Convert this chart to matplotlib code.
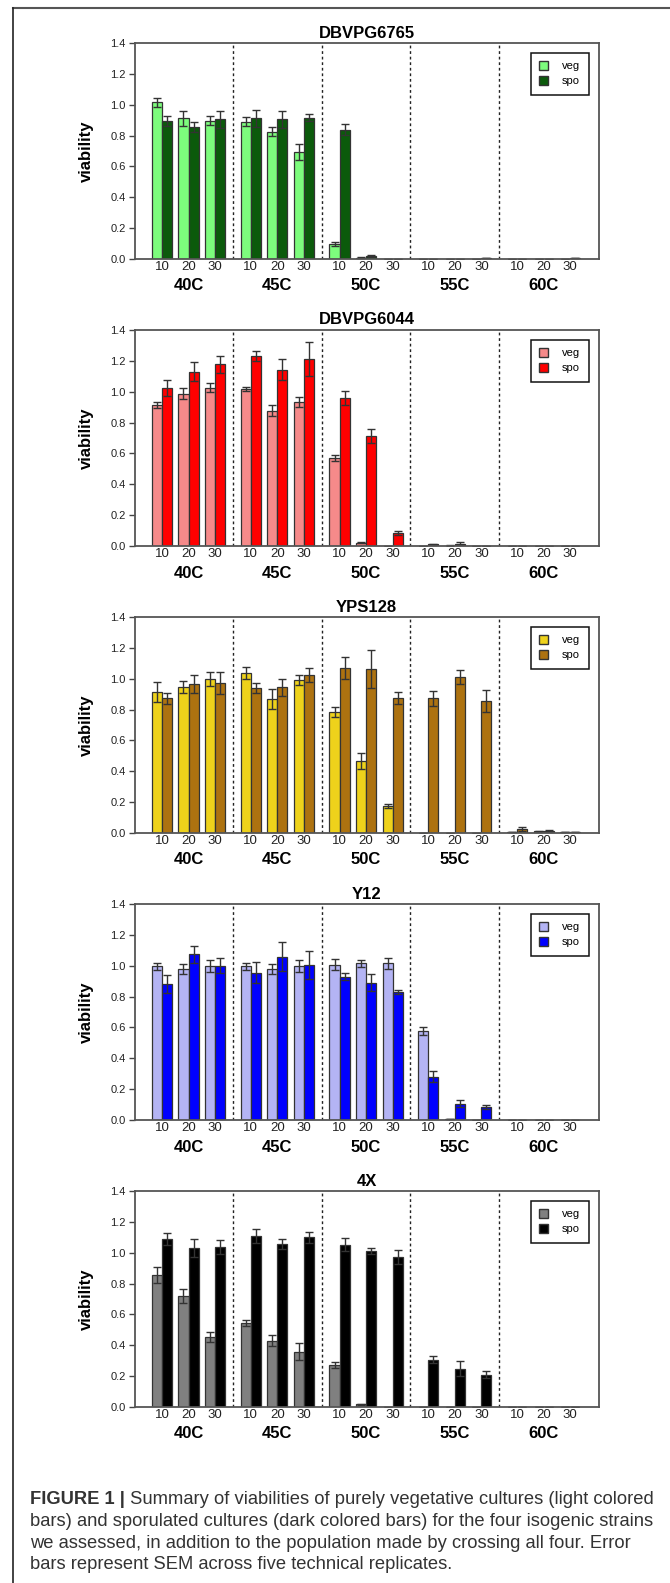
import matplotlib
matplotlib.use('Agg')
import matplotlib.pyplot as plt
from matplotlib.patches import Patch
from matplotlib.lines import Line2D
import numpy as np

plt.rcParams['font.family'] = ['Liberation Sans', 'DejaVu Sans']

temps = ['40C', '45C', '50C', '55C', '60C']
times = ['10', '20', '30']
strains = ['DBVPG6765', 'DBVPG6044', 'YPS128', 'Y12', '4X']

# values ordered 40C(10,20,30), 45C(10,20,30), ... 60C(10,20,30)
veg_6765 = [1.015, 0.912, 0.897, 0.89, 0.825, 0.693, 0.099, 0.008, 0.003, 0.0, 0.0, 0.0, 0.002, 0.001, 0.001]
veg_6765_err = [0.03, 0.048, 0.028, 0.03, 0.03, 0.05, 0.012, 0.003, 0.0, 0.0, 0.0, 0.0, 0.0, 0.0, 0.0]
spo_6765 = [0.894, 0.858, 0.905, 0.912, 0.905, 0.916, 0.838, 0.02, 0.002, 0.002, 0.002, 0.005, 0.003, 0.002, 0.005]
spo_6765_err = [0.035, 0.032, 0.054, 0.056, 0.054, 0.024, 0.037, 0.005, 0.0, 0.0, 0.0, 0.0, 0.0, 0.0, 0.0]

veg_6044 = [0.914, 0.987, 1.026, 1.02, 0.877, 0.933, 0.57, 0.022, 0.0, 0.001, 0.003, 0.0, 0.001, 0.001, 0.001]
veg_6044_err = [0.02, 0.037, 0.03, 0.013, 0.035, 0.032, 0.018, 0.005, 0.0, 0.0, 0.003, 0.0, 0.0, 0.0, 0.0]
spo_6044 = [1.024, 1.13, 1.177, 1.229, 1.143, 1.212, 0.957, 0.713, 0.086, 0.012, 0.015, 0.0, 0.001, 0.001, 0.001]
spo_6044_err = [0.052, 0.063, 0.054, 0.032, 0.067, 0.11, 0.045, 0.043, 0.013, 0.003, 0.008, 0.0, 0.0, 0.0, 0.0]

veg_yps = [0.914, 0.944, 0.998, 1.037, 0.868, 0.992, 0.784, 0.469, 0.175, 0.002, 0.002, 0.002, 0.007, 0.01, 0.004]
veg_yps_err = [0.062, 0.039, 0.048, 0.039, 0.065, 0.032, 0.035, 0.052, 0.015, 0.0, 0.0, 0.0, 0.0, 0.002, 0.0]
spo_yps = [0.873, 0.966, 0.97, 0.94, 0.944, 1.024, 1.067, 1.063, 0.875, 0.873, 1.009, 0.855, 0.024, 0.012, 0.005]
spo_yps_err = [0.035, 0.058, 0.071, 0.032, 0.054, 0.043, 0.071, 0.123, 0.037, 0.047, 0.045, 0.07, 0.013, 0.008, 0.0]

veg_y12 = [0.996, 0.981, 1.0, 0.996, 0.981, 1.0, 1.007, 1.015, 1.015, 0.577, 0.005, 0.0, 0.001, 0.001, 0.002]
veg_y12_err = [0.022, 0.032, 0.039, 0.022, 0.032, 0.039, 0.036, 0.022, 0.037, 0.026, 0.0, 0.0, 0.0, 0.0, 0.0]
spo_y12 = [0.881, 1.074, 1.0, 0.955, 1.059, 1.005, 0.929, 0.89, 0.832, 0.281, 0.106, 0.086, 0.003, 0.003, 0.001]
spo_y12_err = [0.058, 0.056, 0.05, 0.069, 0.095, 0.09, 0.024, 0.056, 0.013, 0.034, 0.024, 0.013, 0.0, 0.0, 0.0]

veg_4x = [0.855, 0.717, 0.454, 0.542, 0.43, 0.359, 0.272, 0.018, 0.0, 0.0, 0.0, 0.0, 0.0, 0.002, 0.0]
veg_4x_err = [0.052, 0.045, 0.035, 0.02, 0.037, 0.054, 0.017, 0.002, 0.0, 0.0, 0.0, 0.0, 0.0, 0.0, 0.0]
spo_4x = [1.087, 1.028, 1.037, 1.108, 1.054, 1.1, 1.052, 1.011, 0.972, 0.307, 0.248, 0.21, 0.0, 0.0, 0.0]
spo_4x_err = [0.039, 0.058, 0.048, 0.048, 0.033, 0.036, 0.043, 0.017, 0.043, 0.021, 0.048, 0.021, 0.0, 0.0, 0.0]

veg_colors = ['#7dfc7d', '#f68a8a', '#eed21b', '#b4b4f4', '#808080']
spo_colors = ['#0b5a0b', '#ff0000', '#ad7210', '#0000ff', '#000000']

caption_bold = 'FIGURE 1 |'
caption_lines = [
    ' Summary of viabilities of purely vegetative cultures (light colored',
    'bars) and sporulated cultures (dark colored bars) for the four isogenic strains',
    'we assessed, in addition to the population made by crossing all four. Error',
    'bars represent SEM across five technical replicates.',
]

data = [
    (veg_6765, veg_6765_err, spo_6765, spo_6765_err),
    (veg_6044, veg_6044_err, spo_6044, spo_6044_err),
    (veg_yps, veg_yps_err, spo_yps, spo_yps_err),
    (veg_y12, veg_y12_err, spo_y12, spo_y12_err),
    (veg_4x, veg_4x_err, spo_4x, spo_4x_err),
]

W, H = 670, 1583
fig = plt.figure(figsize=(W / 100, H / 100), dpi=100)

# layout in pixels
ax_left, ax_right = 134.7, 598.5
ax_h = 216
first_top, pitch = 43, 287

G = 3.35      # spacing between temperature groups
bw = 0.38     # bar width
centers = np.array([g * G + s for g in range(len(temps)) for s in range(len(times))])
boundaries = [g * G + 2 + (G - 2) / 2 for g in range(len(temps) - 1)]

for i, name in enumerate(strains):
    veg, veg_err, spo, spo_err = data[i]
    top = first_top + i * pitch
    ax = fig.add_axes([ax_left / W, 1 - (top + ax_h) / H,
                       (ax_right - ax_left) / W, ax_h / H])
    ekw = dict(ecolor='#333333', elinewidth=1, capsize=2.6, capthick=1)
    ax.bar(centers - bw / 2, veg, bw, color=veg_colors[i], edgecolor='#333333',
           linewidth=0.9, yerr=veg_err, error_kw=ekw, zorder=2)
    ax.bar(centers + bw / 2, spo, bw, color=spo_colors[i], edgecolor='#333333',
           linewidth=0.9, yerr=spo_err, error_kw=ekw, zorder=2)
    for b in boundaries:
        ax.axvline(b, color='#222222', lw=1, linestyle=(0, (2, 2)), zorder=1)

    ax.set_xlim(-1.03, 16.47)
    ax.set_ylim(0, 1.4)
    ax.set_yticks(np.arange(0, 1.41, 0.2))
    ax.set_yticklabels(['%.1f' % v for v in np.arange(0, 1.41, 0.2)])
    ax.set_xticks(centers)
    ax.set_xticklabels(times * len(temps))
    ax.tick_params(axis='y', length=4.3, width=1, color='#444444',
                   labelsize=8, pad=2, labelcolor='#222222')
    ax.tick_params(axis='x', length=0, labelsize=9.5, pad=1.5, labelcolor='#222222')
    for sp in ax.spines.values():
        sp.set_color('#555555')
        sp.set_linewidth(1.3)

    for g, t in enumerate(temps):
        ax.text(g * G + 1, -27 / ax_h, t, transform=ax.get_xaxis_transform(),
                ha='center', va='center', fontsize=12, fontweight='bold')
    ax.text(0.5, 1 + 10 / ax_h, name, transform=ax.transAxes, ha='center',
            va='center', fontsize=12, fontweight='bold')
    ax.text(-48 / (ax_right - ax_left), 0.5, 'viability', transform=ax.transAxes,
            rotation=90, ha='center', va='center', fontsize=12, fontweight='bold')

    handles = [Patch(facecolor=veg_colors[i], edgecolor='#333333', label='veg'),
               Patch(facecolor=spo_colors[i], edgecolor='#333333', label='spo')]
    leg = ax.legend(handles=handles, loc='upper right', fontsize=8, frameon=True,
                    fancybox=False, edgecolor='#111111', framealpha=1,
                    handlelength=0.75, handleheight=0.75, handletextpad=1.3,
                    borderpad=0.75, labelspacing=0.45, borderaxespad=0.9)
    leg.get_frame().set_linewidth(1.1)

# page frame lines
fig.add_artist(Line2D([13 / W, 1], [1 - 8 / H, 1 - 8 / H], color='#555555', lw=1.5))
fig.add_artist(Line2D([13 / W, 13 / W], [0, 1 - 8 / H], color='#222222', lw=1.2))

# caption, sized so the first line spans like the reference
cap_x0, cap_x1 = 30, 654
line_y = [1500, 1521.5, 1543, 1564.5]
fs = 12
tb = fig.text(cap_x0 / W, 1 - line_y[0] / H, caption_bold, fontsize=fs,
              fontweight='bold', color='#333333', va='center')
fig.canvas.draw()
r = fig.canvas.get_renderer()
t1 = fig.text(0, 0, caption_lines[0], fontsize=fs, color='#333333', va='center')
wb = tb.get_window_extent(r).width
w1 = t1.get_window_extent(r).width
fs = fs * (cap_x1 - cap_x0) / (wb + w1)
tb.set_fontsize(fs)
t1.set_fontsize(fs)
wb = tb.get_window_extent(r).width
t1.set_position(((cap_x0 + wb) / W, 1 - line_y[0] / H))
for k in range(1, 4):
    fig.text(cap_x0 / W, 1 - line_y[k] / H, caption_lines[k], fontsize=fs,
             color='#333333', va='center')

fig.savefig('out.png', dpi=100)
